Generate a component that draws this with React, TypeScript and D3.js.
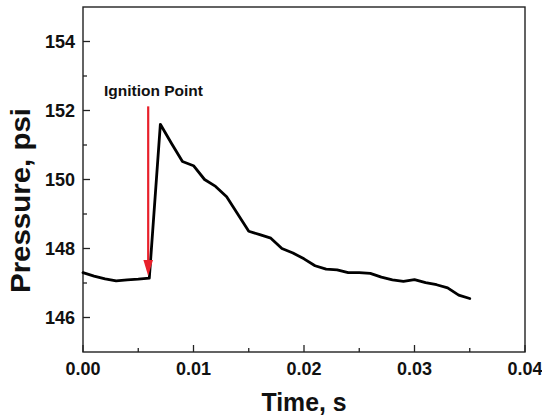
import React from "react";
import * as d3 from "d3";

const timeValues = [0, 0.001, 0.002, 0.003, 0.004, 0.005, 0.006, 0.007, 0.008, 0.009, 0.01, 0.011, 0.012, 0.013, 0.014, 0.015, 0.016, 0.017, 0.018, 0.019, 0.02, 0.021, 0.022, 0.023, 0.024, 0.025, 0.026, 0.027, 0.028, 0.029, 0.03, 0.031, 0.032, 0.033, 0.034, 0.035];
const pressureValues = [147.3, 147.2, 147.12, 147.06, 147.09, 147.11, 147.14, 151.6, 151.05, 150.52, 150.4, 150.0, 149.8, 149.5, 149.0, 148.5, 148.4, 148.3, 148.0, 147.87, 147.7, 147.5, 147.4, 147.38, 147.3, 147.3, 147.28, 147.17, 147.09, 147.05, 147.1, 147.01, 146.95, 146.86, 146.65, 146.55];
const xMajorTicks = [0, 0.01, 0.02, 0.03, 0.04];
const xMinorTicks = [0.005, 0.015, 0.025, 0.035];
const yMajorTicks = [146, 148, 150, 152, 154];
const yMinorTicks = [147, 149, 151, 153];
const annotationLabel = "Ignition Point";
const ignitionTime = 0.0059;
const arrowTop = 152.12;
const arrowTip = 147.2;

const W = 542;
const H = 417;
const left = 83;
const right = 525;
const top = 7;
const bottom = 352;
const font = "'Liberation Sans', Arial, sans-serif";

export default function App() {
  const x = d3.scaleLinear().domain([0, 0.04]).range([left, right]);
  const y = d3.scaleLinear().domain([145, 155]).range([bottom, top]);
  const data = timeValues.map((t, i) => [t, pressureValues[i]] as [number, number]);
  const line = d3.line<[number, number]>().x(d => x(d[0])).y(d => y(d[1]));

  const ax = x(ignitionTime);
  const tipY = y(arrowTip);
  const headLen = 16;
  const headHalf = 4.8;

  return (
    <svg width={W} height={H} style={{ position: "absolute", left: 0, top: 0, background: "#fff" }}>
      <rect x={0} y={0} width={W} height={H} fill="#fff" />
      {/* frame */}
      <rect x={left} y={top} width={right - left} height={bottom - top} fill="none" stroke="#222" strokeWidth={1.4} />
      {/* x ticks */}
      {xMajorTicks.map(t => (
        <g key={"xm" + t}>
          <line x1={x(t)} x2={x(t)} y1={bottom} y2={bottom - 7} stroke="#222" strokeWidth={1.3} />
          <text x={x(t)} y={375} textAnchor="middle" fontFamily={font} fontWeight="bold" fontSize={18} fill="#111">
            {d3.format(".2f")(t)}
          </text>
        </g>
      ))}
      {xMinorTicks.map(t => (
        <line key={"xn" + t} x1={x(t)} x2={x(t)} y1={bottom} y2={bottom - 4} stroke="#222" strokeWidth={1.3} />
      ))}
      {/* y ticks */}
      {yMajorTicks.map(v => (
        <g key={"ym" + v}>
          <line x1={left} x2={left + 7} y1={y(v)} y2={y(v)} stroke="#222" strokeWidth={1.3} />
          <text x={75} y={y(v) + 6.5} textAnchor="end" fontFamily={font} fontWeight="bold" fontSize={18} fill="#111">
            {v}
          </text>
        </g>
      ))}
      {yMinorTicks.map(v => (
        <line key={"yn" + v} x1={left} x2={left + 4} y1={y(v)} y2={y(v)} stroke="#222" strokeWidth={1.3} />
      ))}
      {/* data line */}
      <path d={line(data) || ""} fill="none" stroke="#000" strokeWidth={2.8} strokeLinejoin="round" strokeLinecap="round" />
      {/* arrow */}
      <line x1={ax} x2={ax} y1={y(arrowTop)} y2={tipY - headLen + 2} stroke="#e8202a" strokeWidth={2.2} />
      <path d={`M${ax - headHalf},${tipY - headLen} L${ax + headHalf},${tipY - headLen} L${ax},${tipY} Z`} fill="#e8202a" />
      <text x={104} y={96} fontFamily={font} fontWeight="bold" fontSize={15} fill="#111" textLength={99} lengthAdjust="spacingAndGlyphs">
        {annotationLabel}
      </text>
      {/* axis titles */}
      <text x={304} y={411} textAnchor="middle" fontFamily={font} fontWeight="bold" fontSize={26} fill="#111" textLength={85} lengthAdjust="spacingAndGlyphs">
        Time, s
      </text>
      <text transform={`translate(30,200.5) rotate(-90)`} textAnchor="middle" fontFamily={font} fontWeight="bold" fontSize={27} fill="#111" textLength={185} lengthAdjust="spacingAndGlyphs">
        Pressure, psi
      </text>
    </svg>
  );
}
